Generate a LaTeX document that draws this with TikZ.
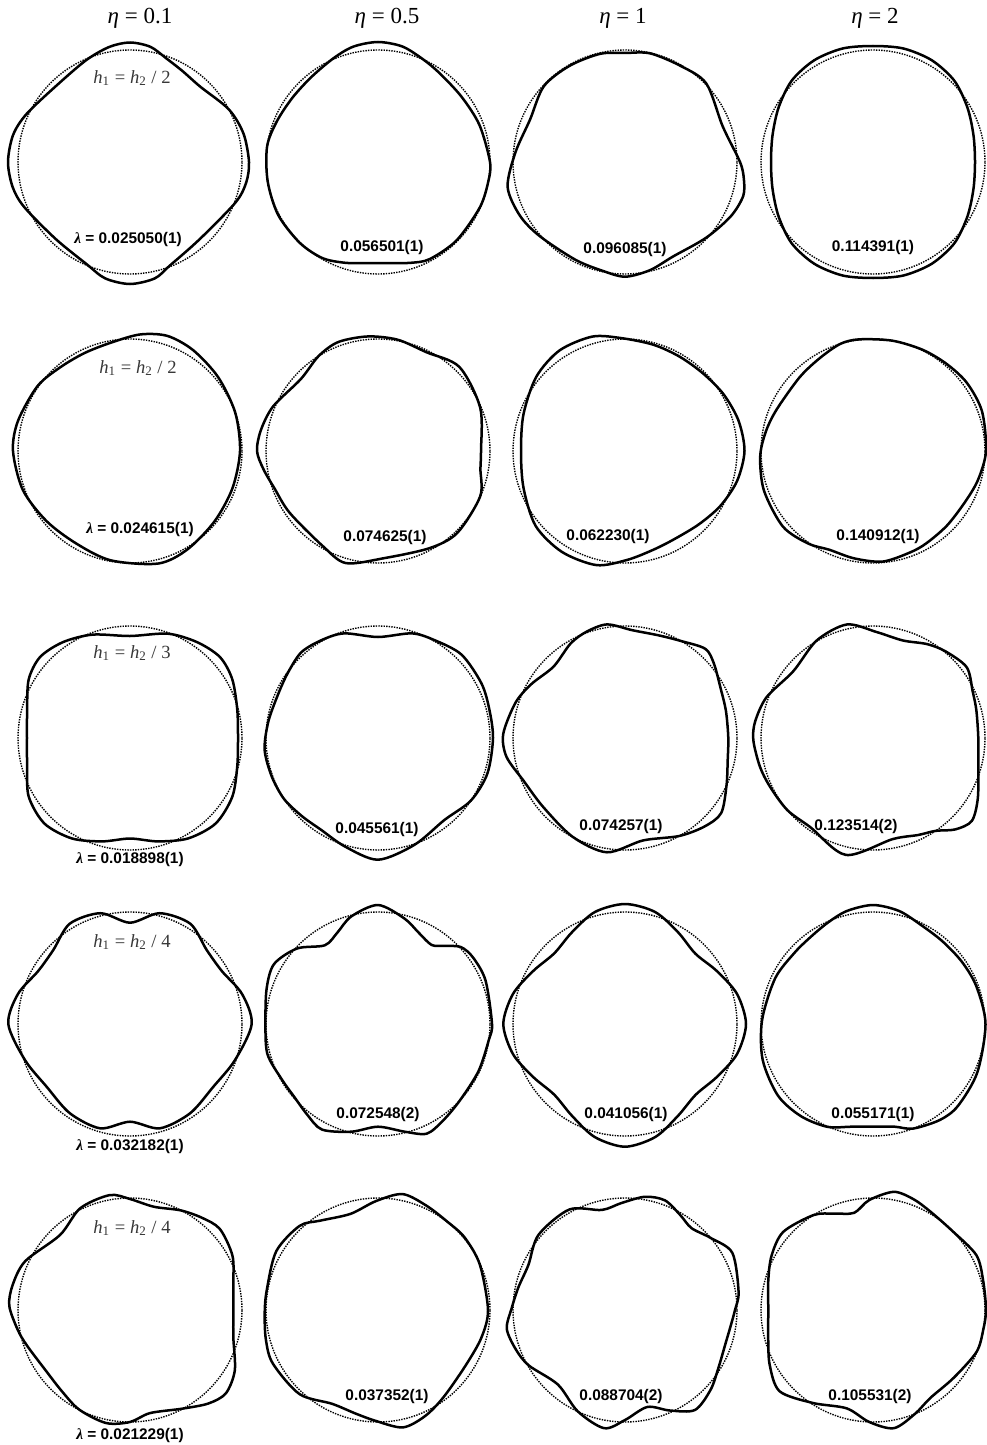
\documentclass[tikz,border=0pt]{standalone}
\usepackage{fontspec}
\setmainfont{Liberation Serif}
\setsansfont{Liberation Sans}
\usepackage{tikz}
\definecolor{ratiogray}{RGB}{55,55,55}

\tikzset{
  unit circle/.style={line width=0.7pt, dash pattern=on 0.7pt off 0.6pt},
  mode line/.style={line width=1.25pt, line join=round},
  eig/.style={font=\fontsize{7.7}{9}\selectfont\sffamily\bfseries, inner sep=0pt},
  ratio/.style={font=\fontsize{9.3}{11}\selectfont, text=ratiogray, inner sep=0pt},
  head/.style={font=\fontsize{11.5}{13}\selectfont, inner sep=0pt}
}
\newcommand{\lam}{{\rmfamily\itshape λ}}
\newcommand{\hh}[1]{\textit{h}\textsubscript{1} = \textit{h}\textsubscript{2} / #1}

\begin{document}
\begin{tikzpicture}[x=0.5pt, y=0.5pt]
\useasboundingbox (0,0) rectangle (986,-1445);

% Column headers
\node[head] (eta1) at (140,-18) {\textit{η} = 0.1};
\node[head] (eta2) at (387,-18) {\textit{η} = 0.5};
\node[head] (eta3) at (623,-18) {\textit{η} = 1};
\node[head] (eta4) at (875,-18) {\textit{η} = 2};

% Row 1
\begin{scope}[shift={(130,-162)}]
    \draw[unit circle] (0,0) circle (112);
    \draw[mode line] plot[smooth cycle] coordinates {(0:119) (14:117) (28:112) (47:103) (60:105) (71:110) (80:117) (90:119.5) (100:117) (113:111) (133:106) (155:114) (167:120) (180:122) (192:120) (203:115) (226:107) (247:111) (258:119) (270:122) (282:119) (291:111) (312:104) (339:113) (350:118)};
    \node[ratio] (h11) at (2,84) {\hh{2}};
    \node[eig] (lam11) at (-2,-78) {\lam{} = 0.025050(1)};
\end{scope}
\begin{scope}[shift={(378,-162)}]
    \draw[unit circle] (0,0) circle (112);
    \draw[mode line] plot[smooth cycle] coordinates {(0:112) (20:108) (38:106) (55:108) (66:112) (78:118) (90:120) (102:118) (113:113) (128:108) (143:107) (158:109) (172:112) (190:112) (208:113) (226:112.5) (240:111) (252:106) (262:102) (270:101) (278:102) (288:106) (298:110) (315:111) (336:111.5) (350:112)};
    \node[eig] (lam12) at (4,-86) {0.056501(1)};
\end{scope}
\begin{scope}[shift={(625,-162)}]
    \draw[unit circle] (0,0) circle (112);
    \draw[mode line] plot[smooth cycle] coordinates {(0:115) (20:104) (44:113) (60:111) (77:111.5) (90:109) (103:111) (120:111) (137:111) (156:104) (175:110) (192:120) (207:118) (221:113) (243:109.6) (258:111) (270:114.7) (283:111) (297:106) (317:111) (333:119) (344:123) (352:120)};
    \node[eig] (lam13) at (0,-88) {0.096085(1)};
\end{scope}
\begin{scope}[shift={(873,-162)}]
    \draw[unit circle] (0,0) circle (112);
    \draw[mode line] plot[smooth cycle] coordinates {(0:102) (15:104) (30:109) (45:115) (60:117.5) (75:117.5) (90:116) (105:117.5) (120:117.5) (135:115) (150:109) (165:104) (180:102) (195:104) (210:109) (225:115) (240:117.5) (255:117.5) (270:116) (285:117.5) (300:117.5) (315:115) (330:109) (345:104)};
    \node[eig] (lam14) at (0,-86) {0.114391(1)};
\end{scope}

% Row 2
\begin{scope}[shift={(130,-451)}]
    \draw[unit circle] (0,0) circle (112);
    \draw[mode line] plot[smooth cycle] coordinates {(0:110) (20:112) (40:115) (58:119) (72:121) (85:117) (100:110) (115:108) (130:109) (145:113) (165:116) (180:117) (200:114) (220:109) (240:107) (260:111) (284:116) (300:114) (320:110) (340:109)};
    \node[ratio] (h21) at (8,83) {\hh{2}};
    \node[eig] (lam21) at (10,-79) {\lam{} = 0.024615(1)};
\end{scope}
\begin{scope}[shift={(378,-451)}]
    \draw[unit circle] (0,0) circle (112);
    \draw[mode line] plot[smooth cycle] coordinates {(0:103) (23:111) (46:117) (64:110) (80:113) (95:115) (110:116) (122:112) (137:105.5) (157:114) (170:119) (180:121) (189:116) (200:110) (215:107.8) (240:110) (254:116.6) (273:107.4) (298:110) (314:114) (336:111.8) (350:104)};
    \node[eig] (lam22) at (7,-87) {0.074625(1)};
\end{scope}
\begin{scope}[shift={(625,-451)}]
    \draw[unit circle] (0,0) circle (112);
    \draw[mode line] plot[smooth cycle] coordinates {(0:119.5) (15:117.5) (30:113.7) (45:110) (60:109) (75:110) (92:113) (106:119) (123:120) (140:115.7) (160:108) (180:104) (200:108) (220:116.6) (238:119) (256:117.6) (271:109) (285:103) (298:101) (315:104) (330:110) (345:116)};
    \node[eig] (lam23) at (-17,-86) {0.062230(1)};
\end{scope}
\begin{scope}[shift={(873,-451)}]
    \draw[unit circle] (0,0) circle (112);
    \draw[mode line] plot[smooth cycle] coordinates {(0:113) (20:116) (36:116) (50:114) (64:112.7) (80:112) (97:112.5) (107:112) (120:107) (135:104) (157:105) (170:109) (183:113) (200:116) (220:117.6) (235:113) (246:108) (260:109) (275:111) (290:108) (300:106.6) (315:105) (332:105.4) (345:109)};
    \node[eig] (lam24) at (5,-86) {0.140912(1)};
\end{scope}

% Row 3
\begin{scope}[shift={(130,-738)}]
    \draw[unit circle] (0,0) circle (112);
    \draw[mode line] plot[smooth cycle] coordinates {(0:108) (15:111) (30:118) (42:121) (55:117) (70:111) (90:102) (110:110) (125:117) (138:121) (150:117) (165:106.5) (180:103) (195:106.5) (210:117) (225:121) (240:116) (255:107) (270:100.5) (285:107) (300:116) (315:121) (330:118) (345:111)};
    \node[ratio] (h31) at (2,85) {\hh{3}};
    \node[eig] (lam31) at (0,-122) {\lam{} = 0.018898(1)};
\end{scope}
\begin{scope}[shift={(378,-738)}]
    \draw[unit circle] (0,0) circle (112);
    \draw[mode line] plot[smooth cycle] coordinates {(0:115) (15:115) (28:117) (45:118) (60:113) (72:110) (90:101) (108:110) (120:113) (132:115) (145:111) (158:109) (172:111) (186:114) (200:113) (213:112) (226:109) (238:108) (253:113.4) (270:121.7) (289:112.8) (309:105.5) (326:112) (342:115)};
    \node[eig] (lam32) at (-1,-92) {0.045561(1)};
\end{scope}
\begin{scope}[shift={(625,-738)}]
    \draw[unit circle] (0,0) circle (112);
    \draw[mode line] plot[smooth cycle] coordinates {(0:103.3) (15:104.5) (28:108) (40:116) (48:120) (60:112) (72:108) (86:108) (99:115) (110:113) (120:109) (135:101) (150:108) (162:115) (178:121.8) (189:120) (203:110) (220:107) (242:111.8) (261:115.7) (280:104) (299:112) (312:119) (322:122) (335:112) (348:105)};
    \node[eig] (lam33) at (-4,-89) {0.074257(1)};
\end{scope}
\begin{scope}[shift={(873,-738)}]
    \draw[unit circle] (0,0) circle (112);
    \draw[mode line] plot[smooth cycle] coordinates {(0:105.3) (15:107) (25:110) (37:117.4) (50:113) (60:108.4) (73:102) (88:106) (103:116.5) (120:112.6) (140:104) (159:114) (172:119) (181:119.7) (194:116.7) (205:114) (220:112) (235:109) (257:120) (281:103) (295:107) (304:112) (312:123) (320:129) (330:121) (345:109)};
    \node[eig] (lam34) at (-17,-89) {0.123514(2)};
\end{scope}

% Row 4
\begin{scope}[shift={(130,-1024)}]
    \draw[unit circle] (0,0) circle (112);
    \draw[mode line] plot[smooth cycle] coordinates {(0:121.7) (15:116) (30:106) (44:106.6) (59:117) (75:114.7) (90:101.3) (105:114.7) (121:117) (136:106.6) (150:106) (165:116) (180:121.7) (199:111) (217:104.3) (236:107.6) (254:108.5) (270:97.7) (286:108.5) (304:107.6) (323:104.3) (341:111)};
    \node[ratio] (h41) at (2,82) {\hh{4}};
    \node[eig] (lam41) at (0,-123) {\lam{} = 0.032182(1)};
\end{scope}
\begin{scope}[shift={(378,-1024)}]
    \draw[unit circle] (0,0) circle (112);
    \draw[mode line] plot[smooth cycle] coordinates {(0:114) (22:116) (35:116) (43:113) (50:102) (56:95.5) (66:100) (76:108.8) (90:119) (104:110.8) (114:100) (124:95) (137:110.7) (150:120) (162:117) (178:112.6) (195:114.6) (210:111) (221:111) (232:115) (242:119.5) (256:111) (270:102.7) (284:111) (294:120) (304:116.4) (317:112) (335:111) (352:112)};
    \node[eig] (lam42) at (0,-91) {0.072548(2)};
\end{scope}
\begin{scope}[shift={(625,-1024)}]
    \draw[unit circle] (0,0) circle (112);
    \draw[mode line] plot[smooth cycle] coordinates {(0:121) (15:116) (30:106) (45:99.5) (60:106) (75:116) (90:120) (105:116) (120:106) (135:100) (150:106) (165:116) (180:121.7) (195:116) (210:106) (225:100) (240:106) (255:117) (270:122.7) (285:117) (300:106) (315:100) (330:106) (345:116)};
    \node[eig] (lam43) at (1,-91) {0.041056(1)};
\end{scope}
\begin{scope}[shift={(873,-1024)}]
    \draw[unit circle] (0,0) circle (112);
    \draw[mode line] plot[smooth cycle] coordinates {(0:112.5) (20:110) (35:108.5) (50:108) (64:110) (77:116) (90:119) (103:116) (114:111) (126:107) (138:106) (155:108) (178:111) (198:116) (217:119) (232:117) (246:112.5) (258:105) (270:102.5) (282:105) (291:112) (305:117) (316:118) (335:115)};
    \node[eig] (lam44) at (0,-91) {0.055171(1)};
\end{scope}

% Row 5
\begin{scope}[shift={(130,-1310)}]
    \draw[unit circle] (0,0) circle (112);
    \draw[mode line] plot[smooth cycle] coordinates {(0:103.3) (15:107) (28:116) (42:121) (52:117) (63:111.8) (77:106) (90:111) (100:116.7) (116:113.3) (133:102.6) (155:115.6) (168:120) (178:120.8) (190:114) (199:109) (216:103.7) (230:106) (243:111.8) (258:115.5) (270:112) (281:105) (298:111.7) (310:122) (319:127) (330:121) (345:107)};
    \node[ratio] (h51) at (2,82) {\hh{4}};
    \node[eig] (lam51) at (0,-126) {\lam{} = 0.021229(1)};
\end{scope}
\begin{scope}[shift={(378,-1310)}]
    \draw[unit circle] (0,0) circle (112);
    \draw[mode line] plot[smooth cycle] coordinates {(0:110) (24:111.5) (40:113) (52:112.3) (65:115) (78:118.5) (91:109) (106:100) (123:106.5) (133:115) (150:117.5) (170:113) (182:113.4) (195:116) (207:118) (227:115) (244:104.4) (258:106) (269:111) (282:120) (294:116) (307:109) (328:103.7) (345:107)};
    \node[eig] (lam52) at (9,-87) {0.037352(1)};
\end{scope}
\begin{scope}[shift={(625,-1310)}]
    \draw[unit circle] (0,0) circle (112);
    \draw[mode line] plot[smooth cycle] coordinates {(0:110) (9:115) (28:121.6) (40:112) (51:105.5) (60:110) (70:116.7) (80:115) (92:107) (103:102.7) (119:114.9) (139:114.6) (155:106.6) (168:109) (179:113.3) (189:119.7) (200:116) (210:111) (228:100.3) (245:111.8) (260:120) (270:110) (283:99.5) (294:110) (305:122) (317:117) (328:110) (341:106) (352:107)};
    \node[eig] (lam53) at (-4,-87) {0.088704(2)};
\end{scope}
\begin{scope}[shift={(873,-1310)}]
    \draw[unit circle] (0,0) circle (112);
    \draw[mode line] plot[smooth cycle] coordinates {(0:113) (15:114) (28:117) (45:112) (60:114) (70:118) (80:120) (92:110) (101:99) (112:104) (122:112) (139:119) (152:115) (165:108.5) (180:104.7) (195:108.5) (208:117) (221:123.8) (237:110.8) (255:101.8) (268:112) (280:120) (292:112) (303:105) (320:105.4) (338:111.7) (350:112)};
    \node[eig] (lam54) at (-3,-87) {0.105531(2)};
\end{scope}
\end{tikzpicture}
\end{document}
